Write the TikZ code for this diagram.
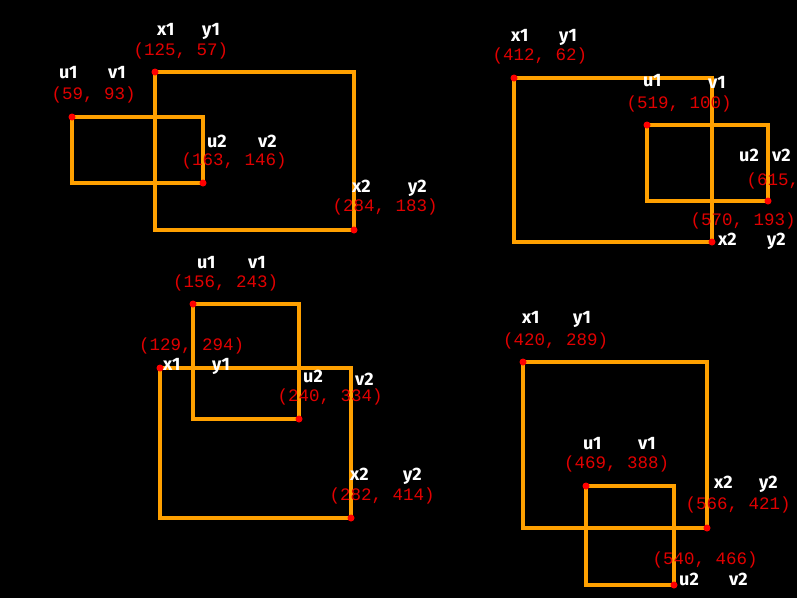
\documentclass[tikz,border=0pt]{standalone}
\usepackage{fontspec}
\setsansfont{Fira Sans}
\newfontfamily\coordfont{Liberation Mono}
\usetikzlibrary{positioning}
\definecolor{boxorange}{RGB}{255,160,0}
\definecolor{ptred}{RGB}{225,0,0}

\begin{document}
\begin{tikzpicture}[x=1pt,y=-1pt,
  box/.style={draw=boxorange,line width=4pt},
  corner/.style={fill=red},
  lbl/.style={text=white,font=\sffamily\bfseries\fontsize{18}{18}\selectfont,anchor=base west,inner sep=0pt},
  numlbl/.style={text=ptred,font=\coordfont\fontsize{17.5}{17.5}\selectfont,anchor=base west,inner sep=0pt,xshift=-3.5pt}]
\fill[black] (0,0) rectangle (797,598);
\useasboundingbox (0,0) rectangle (797,598);
\clip (0,0) rectangle (797,598);

% Top left pair
\coordinate (a1) at (155,72);  \coordinate (a2) at (354,230);
\coordinate (b1) at (72,117);  \coordinate (b2) at (203,183);
\draw[box] (a1) rectangle (a2);
\draw[box] (b1) rectangle (b2);
\foreach \p in {a1,a2,b1,b2} \fill[corner] (\p) circle[radius=3.5pt];
\node[lbl] (ax1) at (157,35) {x1};   \node[lbl] (ay1) at (202,35) {y1};
\node[numlbl] (av1) at (137,55) {(125, 57)};
\node[lbl] (bu1) at (59,78) {u1};    \node[lbl] (bv1) at (108,78) {v1};
\node[numlbl] (bw1) at (55,99) {(59, 93)};
\node[lbl] (bu2) at (207,147) {u2};  \node[lbl] (bv2) at (258,147) {v2};
\node[numlbl] (bw2) at (185,165) {(163, 146)};
\node[lbl] (ax2) at (352,192.5) {x2}; \node[lbl] (ay2) at (408,192.5) {y2};
\node[numlbl] (av2) at (336,211.5) {(284, 183)};

% Top right pair
\coordinate (c1) at (514,78);  \coordinate (c2) at (712,242);
\coordinate (d1) at (647,125); \coordinate (d2) at (768,201);
\draw[box] (c1) rectangle (c2);
\draw[box] (d1) rectangle (d2);
\foreach \p in {c1,c2,d1,d2} \fill[corner] (\p) circle[radius=3.5pt];
\node[lbl] (cx1) at (511,41.5) {x1}; \node[lbl] (cy1) at (559,41.5) {y1};
\node[numlbl] (cv1) at (496,60) {(412, 62)};
\node[lbl] (du1) at (643,86) {u1};   \node[lbl] (dv1) at (708,88) {v1};
\node[numlbl] (dw1) at (630,108) {(519, 100)};
\node[lbl] (du2) at (739,161.5) {u2}; \node[lbl] (dv2) at (772,161.5) {v2};
\node[numlbl] (dw2) at (750,185) {(615, 161)};
\node[numlbl] (cv2) at (694,225) {(570, 193)};
\node[lbl] (cx2) at (718,245) {x2};  \node[lbl] (cy2) at (767,245) {y2};

% Bottom left pair
\coordinate (e1) at (160,368); \coordinate (e2) at (351,518);
\coordinate (f1) at (193,304); \coordinate (f2) at (299,419);
\draw[box] (e1) rectangle (e2);
\draw[box] (f1) rectangle (f2);
\foreach \p in {e1,e2,f1,f2} \fill[corner] (\p) circle[radius=3.5pt];
\node[lbl] (fu1) at (197,268) {u1};  \node[lbl] (fv1) at (248,268) {v1};
\node[numlbl] (fw1) at (176.5,287) {(156, 243)};
\node[numlbl] (ev1) at (142.5,350.5) {(129, 294)};
\node[lbl] (ex1) at (163,370) {x1};  \node[lbl] (ey1) at (212,370) {y1};
\node[lbl] (fu2) at (303,382) {u2};  \node[lbl] (fv2) at (355,385) {v2};
\node[numlbl] (fw2) at (281,401) {(240, 334)};
\node[lbl] (ex2) at (350,480) {x2};  \node[lbl] (ey2) at (403,480) {y2};
\node[numlbl] (ev2) at (333,500.5) {(282, 414)};

% Bottom right pair
\coordinate (g1) at (523,362); \coordinate (g2) at (707,528);
\coordinate (h1) at (586,486); \coordinate (h2) at (674,585);
\draw[box] (g1) rectangle (g2);
\draw[box] (h1) rectangle (h2);
\foreach \p in {g1,g2,h1,h2} \fill[corner] (\p) circle[radius=3.5pt];
\node[lbl] (gx1) at (522,323) {x1};  \node[lbl] (gy1) at (573,323) {y1};
\node[numlbl] (gv1) at (506.5,345) {(420, 289)};
\node[lbl] (hu1) at (583,449) {u1};  \node[lbl] (hv1) at (638,449) {v1};
\node[numlbl] (hw1) at (567.5,468) {(469, 388)};
\node[lbl] (gx2) at (714,488) {x2};  \node[lbl] (gy2) at (759,488) {y2};
\node[numlbl] (gv2) at (689,509) {(566, 421)};
\node[numlbl] (hw2) at (656,564) {(540, 466)};
\node[lbl] (hu2) at (679,585) {u2};  \node[lbl] (hv2) at (729,585) {v2};
\end{tikzpicture}
\end{document}
